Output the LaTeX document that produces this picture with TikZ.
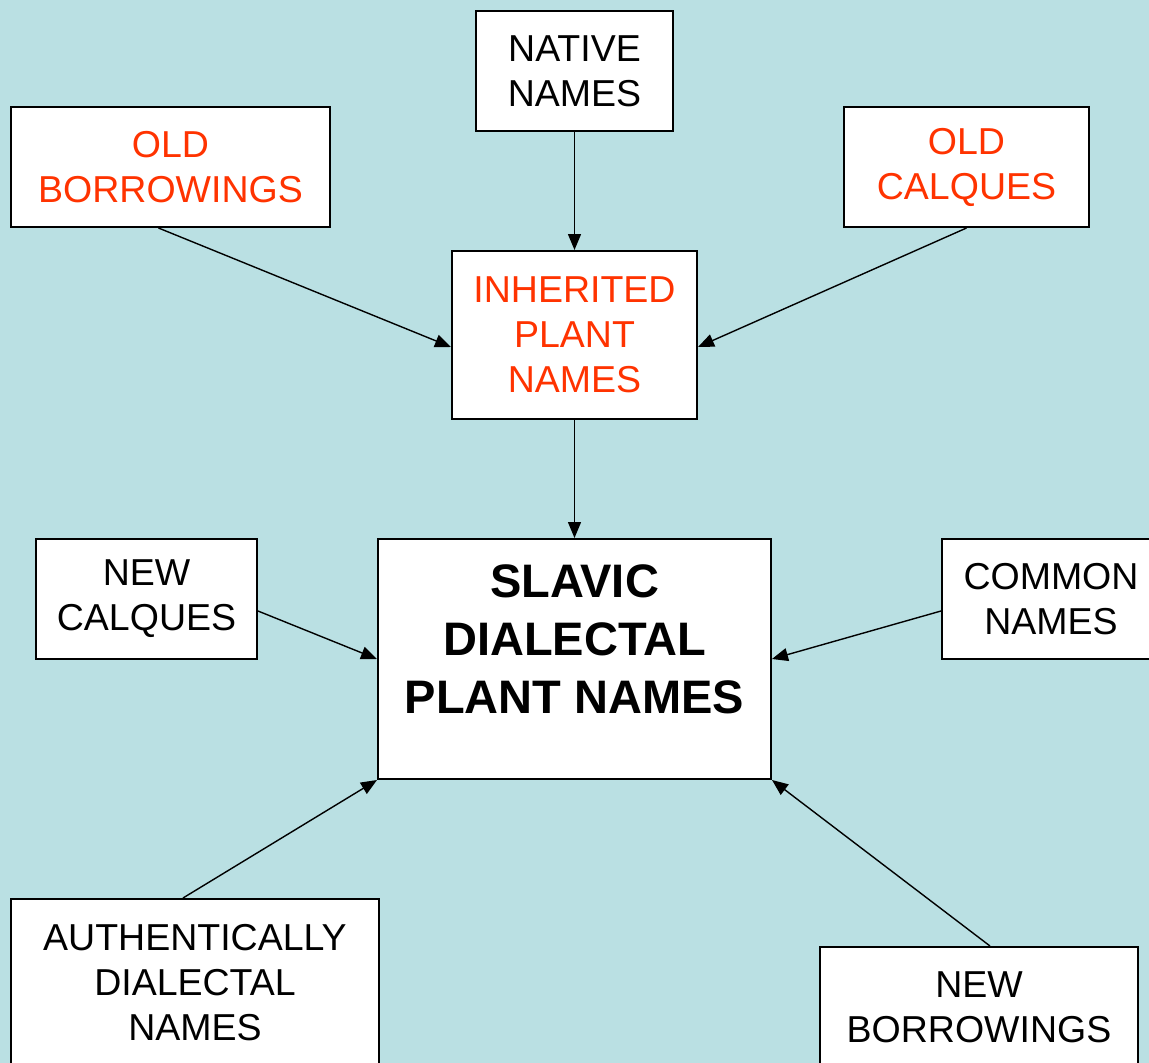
\documentclass[tikz,border=0pt]{standalone}
\usepackage{fontspec}
\setmainfont{Liberation Sans}
\usetikzlibrary{arrows.meta}
\definecolor{bgblue}{RGB}{186,224,227}
\definecolor{oldred}{RGB}{255,51,0}
\tikzset{
  box/.style={draw=black, line width=2pt, fill=white, minimum width=#1, inner sep=0pt, align=center, font=\fontsize{37.5}{45}\selectfont},
  conn/.style={line width=1.4pt, -{Triangle[length=16pt,width=13pt]}},
  redtext/.style={text=oldred}
}
\begin{document}
\begin{tikzpicture}[x=1pt,y=-1pt]
\useasboundingbox (0,0) rectangle (1149,1063);
\clip (0,0) rectangle (1149,1063);
\fill[bgblue] (0,0) rectangle (1149,1063);

\node[box=197pt, minimum height=120pt] (native) at (574.5,71) {NATIVE\\NAMES};
\node[box=319pt, minimum height=120pt, redtext] (oldb) at (170.5,167) {OLD\\BORROWINGS};
\node[box=245pt, minimum height=120pt, redtext] (oldc) at (966.5,167) {OLD\\CALQUES};
\node[box=245pt, minimum height=168pt, redtext] (inh) at (574.5,335) {INHERITED\\PLANT\\NAMES};
\node[box=221pt, minimum height=120pt] (newc) at (146.5,599) {NEW\\CALQUES};
\node[box=393pt, minimum height=240pt] (slavic) at (574.5,659) {};
\node[align=center, inner sep=0pt, font=\fontsize{47}{58}\selectfont\bfseries] (slavictext) at (574.5,639) {SLAVIC\\DIALECTAL\\PLANT NAMES};
\node[box=218pt, minimum height=120pt] (common) at (1051,599) {COMMON\\NAMES};
\node[box=368pt, minimum height=168pt] (auth) at (195,983) {AUTHENTICALLY\\DIALECTAL\\NAMES};
\node[box=318pt, minimum height=120pt] (newb) at (979,1007) {NEW\\BORROWINGS};

\draw[conn] (native.south) -- (inh.north);
\draw[conn] ([xshift=-12pt]oldb.south) -- ([yshift=-12pt]inh.west);
\draw[conn] (oldc.south) -- ([yshift=-12pt]inh.east);
\draw[conn] (inh.south) -- (slavic.north);
\draw[conn] ([yshift=-12pt]newc.east) -- (slavic.west);
\draw[conn] ([yshift=-12pt]common.west) -- (slavic.east);
\draw[conn] ([xshift=-12pt]auth.north) -- (slavic.south west);
\draw[conn] ([xshift=11pt]newb.north) -- (slavic.south east);
\end{tikzpicture}
\end{document}
